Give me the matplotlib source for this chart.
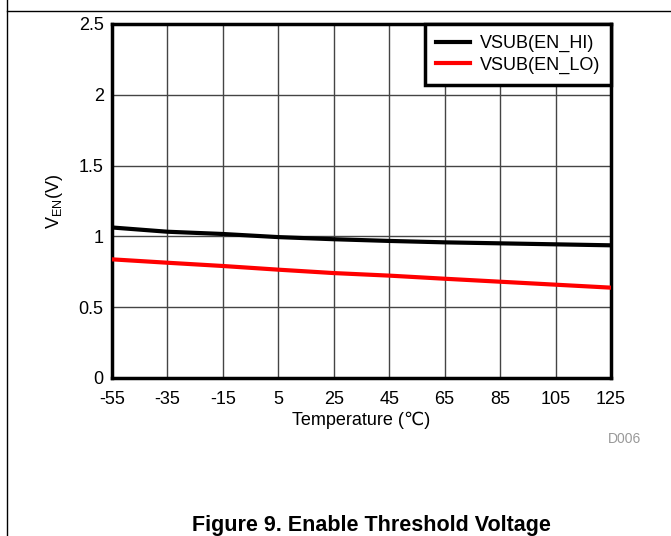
import matplotlib
matplotlib.use("Agg")
import matplotlib.pyplot as plt
from matplotlib.lines import Line2D

plt.rcParams['font.family'] = ['Liberation Sans', 'DejaVu Sans']

temps = [-55, -35, -15, 5, 25, 45, 65, 85, 105, 125]
en_hi = [1.063, 1.033, 1.017, 0.995, 0.980, 0.968, 0.958, 0.951, 0.944, 0.937]
en_lo = [0.838, 0.814, 0.791, 0.765, 0.741, 0.723, 0.701, 0.680, 0.659, 0.638]
xticks = [-55, -35, -15, 5, 25, 45, 65, 85, 105, 125]
yticks = [0, 0.5, 1, 1.5, 2, 2.5]
ytick_labels = ['0', '0.5', '1', '1.5', '2', '2.5']
series_names = ['VSUB(EN_HI)', 'VSUB(EN_LO)']

W, H = 671, 536
fig = plt.figure(figsize=(W / 100, H / 100), dpi=100)
ax = fig.add_axes([112 / W, 1 - 378 / H, (611 - 112) / W, (378 - 24) / H])

ax.plot(temps, en_hi, color='black', lw=3, label=series_names[0], zorder=3)
ax.plot(temps, en_lo, color='#ff0000', lw=3, label=series_names[1], zorder=3)

ax.set_xlim(-55, 125)
ax.set_ylim(0, 2.5)
ax.set_xticks(xticks)
ax.set_xticklabels([str(t) for t in xticks])
ax.set_yticks(yticks)
ax.set_yticklabels(ytick_labels)
ax.tick_params(axis='x', length=0, labelsize=13, pad=9)
ax.tick_params(axis='y', length=0, labelsize=13, pad=6)
ax.grid(True, color='#444444', lw=1)
for s in ax.spines.values():
    s.set_linewidth(2.5)

ax.set_xlabel('Temperature (\u2103)', fontsize=13, labelpad=3)
ax.set_ylabel(r'V$_{\mathregular{EN}}$(V)', fontsize=13, labelpad=10)

leg = ax.legend(loc='upper right', fontsize=13, frameon=True, fancybox=False,
                edgecolor='black', borderaxespad=0.0, handlelength=1.9,
                handletextpad=0.55, labelspacing=0.25, borderpad=0.6,
                framealpha=1)
leg.get_frame().set_linewidth(2.5)

fig.text(608 / W, 1 - 439 / H, 'D006', color='#999999', fontsize=10,
         ha='left', va='center')

# page frame
fig.add_artist(Line2D([7 / W, 7 / W], [0, 1], color='black', lw=1, transform=fig.transFigure))
fig.add_artist(Line2D([7 / W, 1], [1 - 10.5 / H, 1 - 10.5 / H], color='black', lw=1, transform=fig.transFigure))

fig.text(371 / W, 1 - 531 / H, 'Figure 9. Enable Threshold Voltage', fontsize=15.5,
         fontweight='bold', ha='center', va='baseline')

fig.savefig('out.png', dpi=100)
